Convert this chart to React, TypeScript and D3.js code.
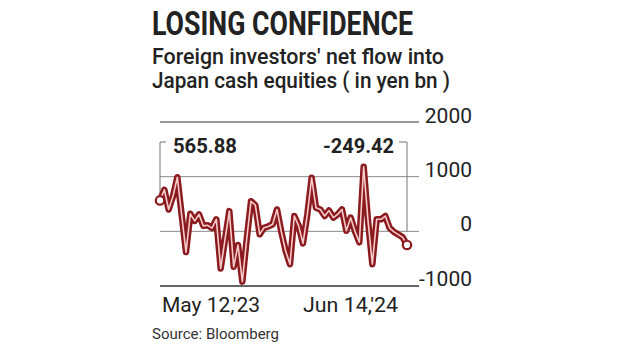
import * as d3 from "d3";

// weekly net flow, yen bn, May 12 '23 -> Jun 14 '24
const flows = [
  565.88, 760, 400, 640, 990, 300, -380, 320, 190, 310,
  100, 110, 60, 220, -680, -150, 370, -650, -250, -920,
  -150, 550, 480, -55, 65, 90, 130, 400, -10, -360,
  -600, 280, 100, -220, 310, 980, 430, 400, 280, 380,
  250, 310, 400, 10, 250, 0, -200, 1180, 200, -600,
  220, 220, 280, 60, -10, -60, -110, -249.42,
];
const yTicks = [2000, 1000, 0, -1000];
const xLabels = ["May 12,'23", "Jun 14,'24"];
const firstLabel = "565.88";
const lastLabel = "-249.42";

const dark = "#8a1a1e";
const font = "Roboto, 'Open Sans', sans-serif";

export default function App() {
  const width = 620;
  const height = 352;

  const x = d3.scaleLinear().domain([0, flows.length - 1]).range([160, 407]);
  const y = d3.scaleLinear().domain([-1000, 2000]).range([286, 122]);

  const line = d3.line<number>()
    .x((d, i) => x(i))
    .y(d => y(d))
    .curve(d3.curveLinear);
  const path = line(flows) || "";

  const gridLeft = 160;
  const gridRight = 419;
  const x0 = x(0), x1 = x(flows.length - 1);
  const y0 = y(flows[0]), y1 = y(flows[flows.length - 1]);
  const bracketTop = 142;

  return (
    <svg width={width} height={height} style={{ position: "absolute", left: 0, top: 0, background: "#fff" }}>
      <rect width={width} height={height} fill="#fff" />
      <g fill="#222" fontFamily={font}>
        <text x={152} y={35} fontSize={34} fontWeight={700} textLength={261} lengthAdjust="spacingAndGlyphs">LOSING CONFIDENCE</text>
        <text x={152} y={64} fontSize={22} fontWeight={500} textLength={292} lengthAdjust="spacingAndGlyphs">Foreign investors' net flow into</text>
        <text x={152} y={88} fontSize={22} fontWeight={500} textLength={298} lengthAdjust="spacingAndGlyphs">Japan cash equities ( in yen bn )</text>
      </g>

      {/* grid */}
      {yTicks.map(t => (
        <g key={t}>
          <line x1={gridLeft} x2={gridRight} y1={y(t)} y2={y(t)}
            stroke={t === 2000 || t === -1000 ? "#333" : "#8a8a8a"} strokeWidth={t === -1000 ? 1.4 : 1} />
          <text x={472} y={y(t) + (t === 2000 ? 1 : 0)} textAnchor="end" fontFamily={font} fontSize={21} fill="#222">{t}</text>
        </g>
      ))}

      {/* brackets to first / last values */}
      <path d={`M${x0 + 6},${bracketTop}H${x0}V${y0}`} fill="none" stroke="#777" strokeWidth={1} />
      <path d={`M${x1 - 8},${bracketTop}H${x1}V${y(0)}`} fill="none" stroke="#777" strokeWidth={1} />
      <text x={173} y={153} fontFamily={font} fontSize={20} fontWeight={700} fill="#222" textLength={64} lengthAdjust="spacingAndGlyphs">{firstLabel}</text>
      <text x={394} y={153} textAnchor="end" fontFamily={font} fontSize={20} fontWeight={700} fill="#222" textLength={71} lengthAdjust="spacingAndGlyphs">{lastLabel}</text>

      {/* series */}
      <path d={path} fill="none" stroke={dark} strokeWidth={6.5} strokeLinejoin="round" strokeLinecap="round" />
      <path d={path} fill="none" stroke="#f7caca" strokeWidth={1.6} strokeLinejoin="round" strokeLinecap="round" />
      <circle cx={x0} cy={y0} r={4.2} fill="#fff" stroke={dark} strokeWidth={2.2} />
      <circle cx={x1} cy={y1} r={4.2} fill="#fff" stroke={dark} strokeWidth={2.2} />

      {/* x labels */}
      <text x={x0 + 2} y={312} fontFamily={font} fontSize={21} fill="#222" textLength={98} lengthAdjust="spacingAndGlyphs">{xLabels[0]}</text>
      <text x={x1 - 9} y={312} textAnchor="end" fontFamily={font} fontSize={21} fill="#222" textLength={95} lengthAdjust="spacingAndGlyphs">{xLabels[1]}</text>

      <text x={152} y={339} fontFamily={font} fontSize={14.5} fill="#333" textLength={127} lengthAdjust="spacingAndGlyphs">Source: Bloomberg</text>
    </svg>
  );
}
